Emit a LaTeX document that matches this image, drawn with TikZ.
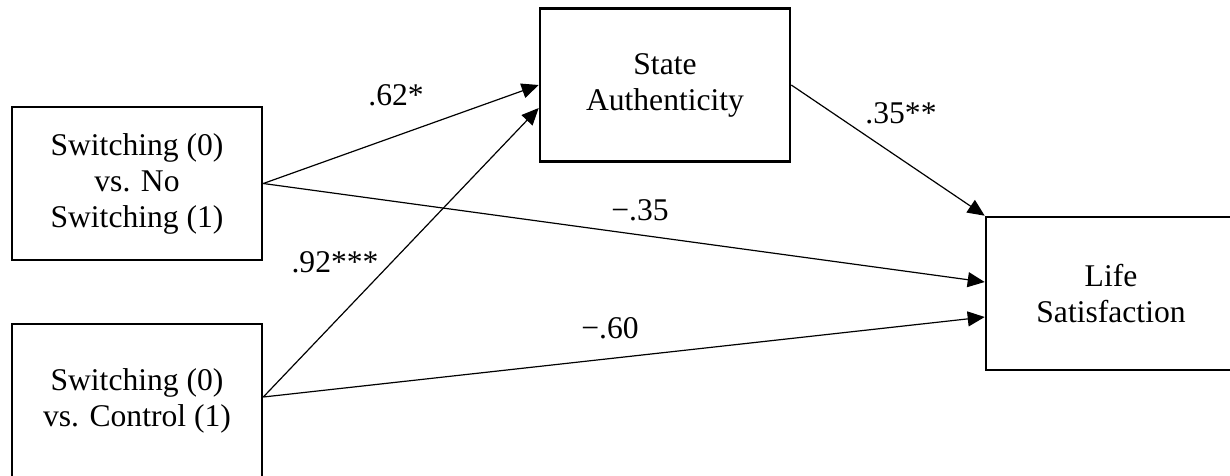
\documentclass[tikz,border=0pt]{standalone}
\usepackage{fontspec}
\setmainfont{Liberation Serif}
\usetikzlibrary{arrows.meta}
\begin{document}
\begin{tikzpicture}[x=1pt,y=-1pt,
  varbox/.style={draw, line width=2.6pt, minimum width=250pt, minimum height=153pt, inner sep=0pt, align=center, font=\fontsize{31.6pt}{36pt}\selectfont},
  path/.style={line width=1.2pt, -{Triangle[length=17pt,width=15pt]}},
  coef/.style={inner sep=0pt, font=\fontsize{31.6pt}{36pt}\selectfont}]
\useasboundingbox (0,0) rectangle (1230,475);
\clip (0,0) rectangle (1230,475);
\node[varbox] (A) at (137,183.5) {Switching (0)\\vs. No\\Switching (1)};
\node[varbox] (B) at (137,400.5) {Switching (0)\\vs. Control (1)};
\node[varbox] (S) at (665,85) {State\\Authenticity};
\node[varbox] (L) at (1111,293.5) {Life\\Satisfaction};
\draw[path] (A.east) -- (S.west);
\draw[path] ([yshift=3.5pt]B.east) -- ([yshift=-23pt]S.west);
\draw[path] (A.east) -- ([yshift=11.5pt]L.west);
\draw[path] ([yshift=3.5pt]B.east) -- ([yshift=-23.5pt]L.west);
\draw[path] (S.east) -- (L.north west);
\node[coef] (c1) at (396,95) {.62*};
\node[coef] (c2) at (335,262) {.92***};
\node[coef] (c3) at (640,210) {−.35};
\node[coef] (c4) at (901,113) {.35**};
\node[coef] (c5) at (610,328) {−.60};
\end{tikzpicture}
\end{document}
